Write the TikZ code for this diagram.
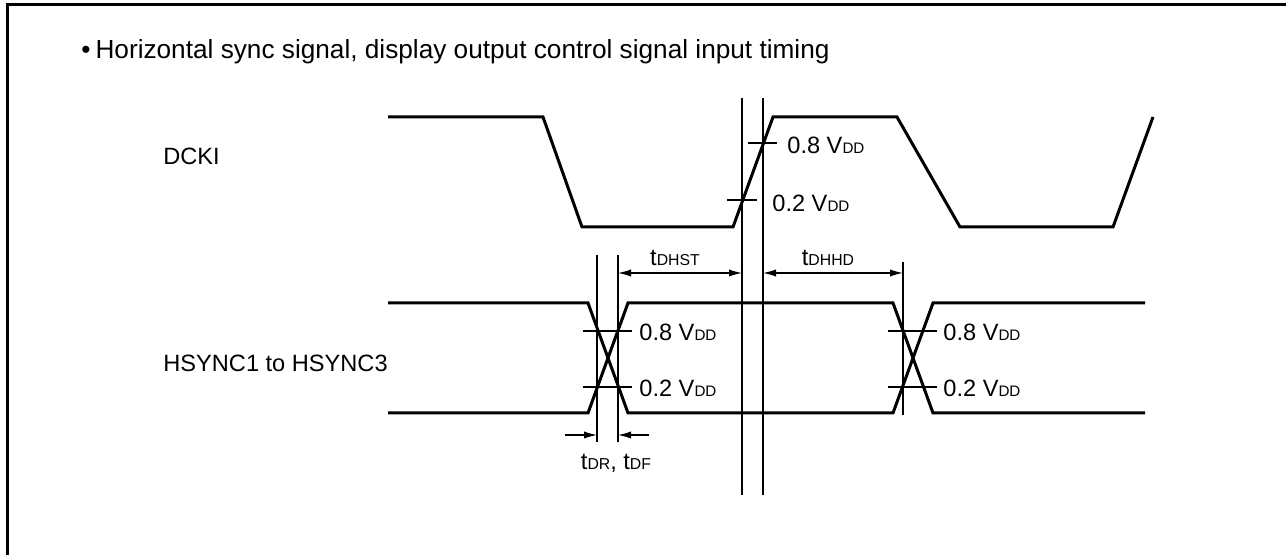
\documentclass[tikz,border=0pt]{standalone}
\usepackage{fontspec}
\setmainfont{Liberation Sans}
\usetikzlibrary{arrows.meta}
\newcommand{\VDD}{V{\fontsize{7.6}{8}\selectfont DD}}
\newcommand{\tdel}[1]{t{\fontsize{7.9}{8}\selectfont #1}}
\tikzset{
  wave/.style={line width=1.5pt, line join=miter},
  guide/.style={line width=0.6pt},
  tip/.tip={Latex[length=6.5pt,width=3.6pt]},
  dim/.style={line width=0.6pt, tip-tip},
  onedim/.style={line width=0.6pt, -tip},
  lbl/.style={anchor=west, inner sep=0pt, font=\fontsize{11.8}{13}\selectfont},
}
\begin{document}
\begin{tikzpicture}[x=0.5pt,y=-0.5pt]
\useasboundingbox (0,0) rectangle (1286,555);
\draw [line width=1.5pt] (1286,5) -- (7,5) -- (7,555);
\node [lbl, font=\fontsize{13.1}{15}\selectfont] (title) at (81,52) {•\hspace{2.5pt}Horizontal sync signal, display output control signal input timing};
\node [lbl] (dcki) at (163,156) {DCKI};
\node [lbl] (hsync) at (163,363) {HSYNC1 to HSYNC3};
% waveforms
\draw [wave] (388,117) -- (543,117) -- (582,227) -- (733,227) -- (773,117) -- (897,117) -- (960,227) -- (1113,227) -- (1153,117);
\draw [wave] (388,303) -- (588,303) -- (628,413) -- (893,413) -- (933,303) -- (1145,303);
\draw [wave] (388,413) -- (588,413) -- (628,303) -- (893,303) -- (933,413) -- (1145,413);
% guide lines
\coordinate (dA) at (742,98);
\coordinate (dB) at (763,98);
\coordinate (hA) at (597,255);
\coordinate (hB) at (618,255);
\coordinate (hC) at (903,262);
\draw [guide] (dA) -- (742,495);
\draw [guide] (dB) -- (763,495);
\draw [guide] (hA) -- (597,442);
\draw [guide] (hB) -- (618,442);
\draw [guide] (hC) -- (903,415);
% level ticks
\draw [guide] (748,143) -- (777,143);
\draw [guide] (727,200) -- (757,200);
\draw [guide] (583,331) -- (632,331);
\draw [guide] (583,387) -- (632,387);
\draw [guide] (888,331) -- (937,331);
\draw [guide] (888,387) -- (937,387);
\node [lbl] (d8) at (787,145) {0.8 \VDD};
\node [lbl] (d2) at (772,203) {0.2 \VDD};
\node [lbl] (h8) at (639,332) {0.8 \VDD};
\node [lbl] (h2) at (639,388) {0.2 \VDD};
\node [lbl] (k8) at (943,332) {0.8 \VDD};
\node [lbl] (k2) at (943,388) {0.2 \VDD};
% timing arrows
\coordinate (st-l) at (618,273);
\coordinate (st-r) at (742,273);
\coordinate (hd-l) at (763,273);
\coordinate (hd-r) at (903,273);
\draw [dim] (st-l) -- (st-r);
\draw [dim] (hd-l) -- (hd-r);
\node [lbl, anchor=center] (tst) at (675,258) {\tdel{DHST}};
\node [lbl, anchor=center] (thd) at (828,258) {\tdel{DHHD}};
\coordinate (rf-a) at (565,435);
\coordinate (rf-b) at (597,435);
\coordinate (rf-c) at (649,435);
\coordinate (rf-d) at (618,435);
\draw [onedim] (rf-a) -- (rf-b);
\draw [onedim] (rf-c) -- (rf-d);
\node [lbl, anchor=center] (trf) at (616,463) {\tdel{DR}, \tdel{DF}};
\end{tikzpicture}
\end{document}
